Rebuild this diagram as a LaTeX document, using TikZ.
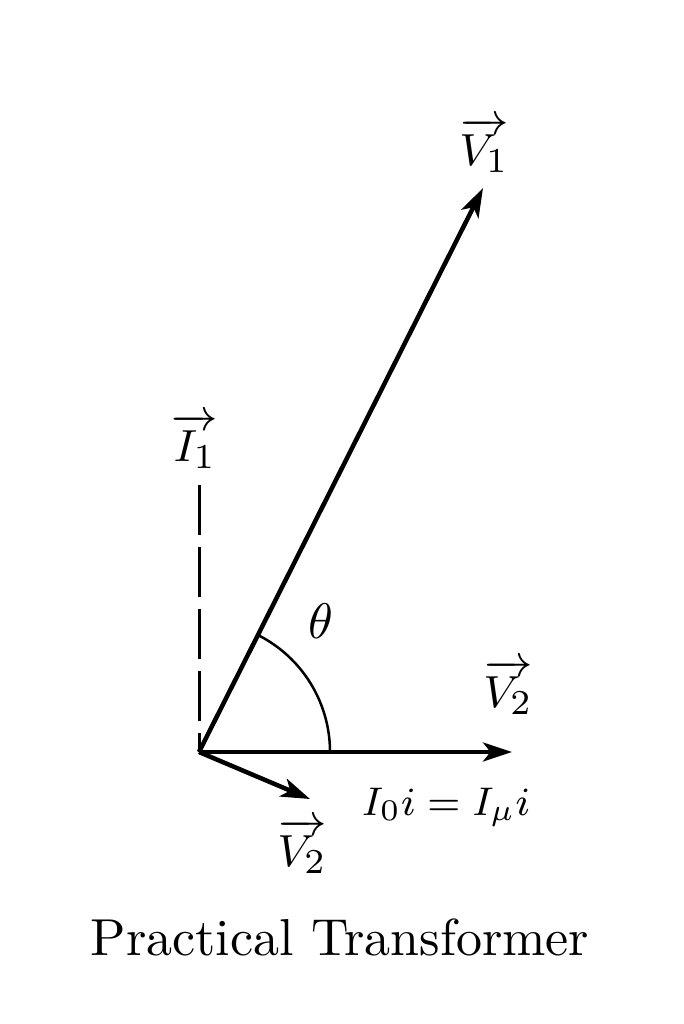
\documentclass[tikz,border=0pt]{standalone}
\usepackage{amsmath, amssymb}
\usetikzlibrary{arrows.meta}

\begin{document}
\begin{tikzpicture}[x=0.2pt, y=-0.2pt,
    phasor/.style={line width=0.9pt, -{Stealth[length=5.8pt, width=3.8pt, inset=1.5pt]}},
    vlabel/.style={font=\fontsize{9.3}{11}\selectfont, inner sep=0pt}]
        \useasboundingbox (0,0) rectangle (683,1024);
        \coordinate (O) at (199,752);
        \coordinate (V1end) at (483,188);
        \coordinate (V2end) at (512,752);
        \coordinate (V2low) at (310,799);
        \coordinate (I1top) at (199,485);
        \draw[line width=0.6pt, dash pattern=on 10pt off 2.4pt] (I1top) -- (O);
        \draw[phasor] (O) -- (V1end);
        \draw[phasor] (O) -- (V2end);
        \draw[phasor] (O) -- (V2low);
        \draw[line width=0.5pt] ([xshift=26.2pt]O) arc (0:-63.3:131);
        \node[vlabel] (v1) at (484,145) {$\overrightarrow{V_1}$};
        \node[vlabel] (i1) at (195,441) {$\overrightarrow{I_1}$};
        \node[vlabel] (v2) at (508,687) {$\overrightarrow{V_2}$};
        \node[vlabel] (v2b) at (302,846) {$\overrightarrow{V_2}$};
        \node[vlabel, font=\fontsize{10.4}{12}\selectfont] (theta) at (321,621) {$\theta$};
        \node[vlabel, font=\fontsize{8.5}{10}\selectfont] (imag) at (446,807) {$I_0 i = I_\mu i$};
        \node[anchor=base, inner sep=0pt, font=\fontsize{10.4}{12.5}\selectfont] (title) at (340,955) {Practical Transformer};
    \end{tikzpicture}
\end{document}
